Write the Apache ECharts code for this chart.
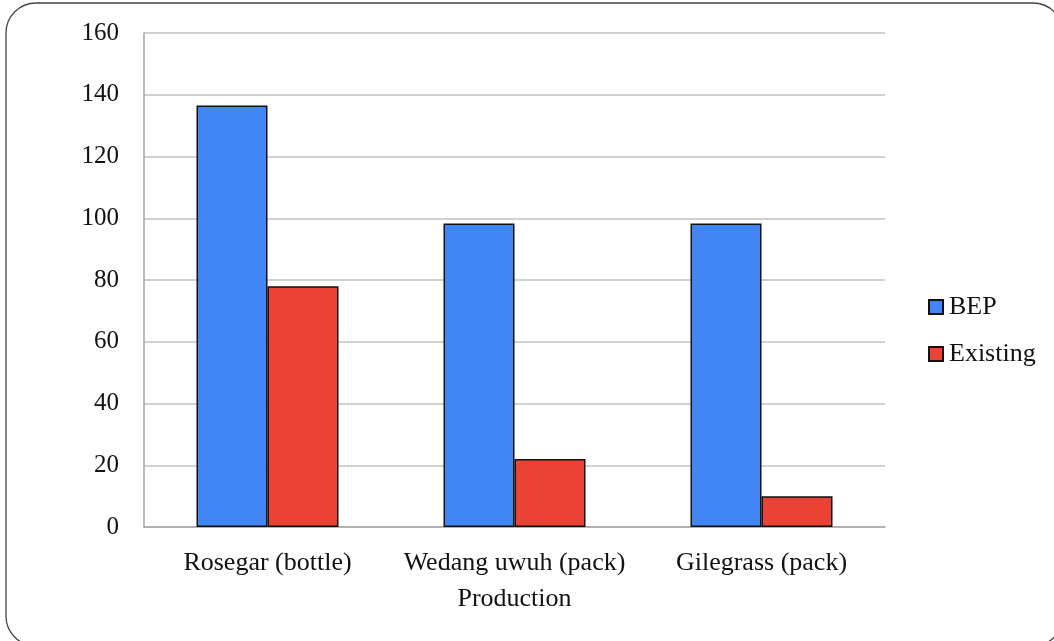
<!DOCTYPE html>
<html>
<head>
<meta charset="utf-8">
<script src="https://cdn.jsdelivr.net/npm/echarts@6/dist/echarts.min.js"></script>
<style>
html,body{margin:0;padding:0;background:#fff;}
#chart{width:1054px;height:641px;}
</style>
</head>
<body>
<div id="chart"></div>
<script>
const categories = ['Rosegar (bottle)', 'Wedang uwuh (pack)', 'Gilegrass (pack)'];
const bepValues = [136.5, 98.3, 98.3];
const existingValues = [78, 22, 10];
const seriesNames = ['BEP', 'Existing'];
const xAxisTitle = 'Production';

const font = 'Liberation Serif, Times New Roman, serif';
const chart = echarts.init(document.getElementById('chart'));
chart.setOption({
  backgroundColor: '#fff',
  animation: false,
  textStyle: { fontFamily: font },
  graphic: [{
    type: 'rect', silent: true, z: -1,
    shape: { x: 6, y: 3, width: 1057, height: 643, r: 30 },
    style: { fill: 'none', stroke: '#444', lineWidth: 1.3 }
  }],
  grid: { left: 144, right: 169, top: 33, bottom: 114, containLabel: false },
  legend: {
    orient: 'vertical', left: 923, top: 289,
    icon: 'rect',
    itemWidth: 14, itemHeight: 14, itemGap: 21,
    textStyle: { fontFamily: font, fontSize: 26, color: '#111', lineHeight: 26, padding: [0,0,0,1] },
    data: seriesNames
  },
  xAxis: {
    type: 'category', data: categories,
    name: xAxisTitle, nameLocation: 'middle', nameGap: 59,
    nameTextStyle: { fontFamily: font, fontSize: 26, color: '#111' },
    axisLine: { lineStyle: { color: '#a6a6a6', width: 1.5 } },
    axisTick: { show: false },
    axisLabel: { fontFamily: font, fontSize: 26, color: '#111', margin: 23, interval: 0, hideOverlap: false }
  },
  yAxis: {
    type: 'value', min: 0, max: 160, interval: 20,
    axisLine: { show: true, lineStyle: { color: '#a6a6a6', width: 1.5 } },
    axisTick: { show: false },
    axisLabel: { fontFamily: font, fontSize: 25, color: '#111', margin: 25 },
    splitLine: { lineStyle: { color: '#c0c0c0', width: 1.5 } }
  },
  series: [
    { name: seriesNames[0], type: 'bar', data: bepValues, barWidth: 71, barGap: '0%',
      itemStyle: { color: '#4285F4', borderColor: '#111', borderWidth: 1.5 } },
    { name: seriesNames[1], type: 'bar', data: existingValues, barWidth: 71, barGap: '0%',
      itemStyle: { color: '#EA4335', borderColor: '#111', borderWidth: 1.5 } }
  ]
});
</script>
</body>
</html>
